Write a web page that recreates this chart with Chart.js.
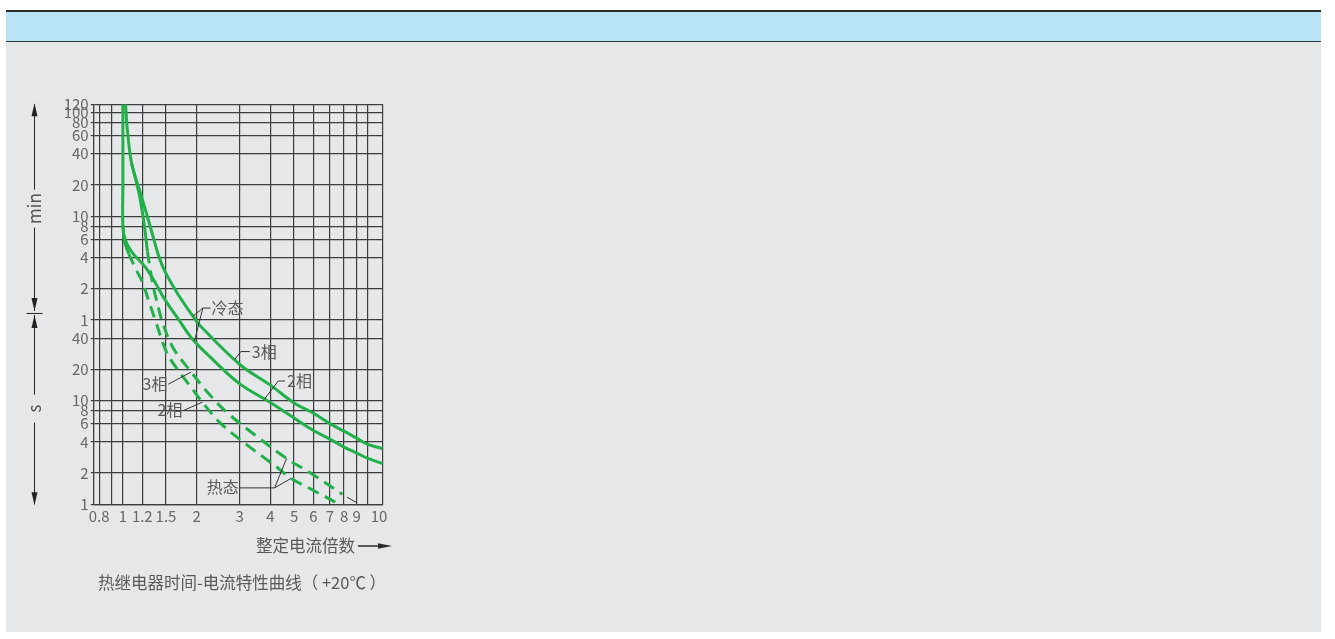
<!DOCTYPE html>
<html>
<head>
<meta charset="utf-8">
<script src="https://cdn.jsdelivr.net/npm/chart.js@4.4.1/dist/chart.umd.min.js"></script>
<style>
  html, body { margin:0; padding:0; background:#ffffff; width:1335px; height:639px; overflow:hidden;
    font-family:'Noto Sans CJK SC','Noto Sans',sans-serif; }
  #topline { position:absolute; left:6px; top:10px; width:1315px; height:2px; background:#2b2b2b; }
  #band { position:absolute; left:6px; top:12px; width:1315px; height:29px; background:#b9e4f8; border-bottom:1px solid #2c363b; }
  #panel { position:absolute; left:6px; top:42px; width:1315px; height:590px; background:#e6e7e9; }
  #wrap { position:absolute; left:0; top:60px; width:430px; height:500px; }
  .txt { position:absolute; color:#595959; font-size:16.5px; line-height:20px; white-space:nowrap; }
  #xarrow { position:absolute; left:357px; top:540px; }
</style>
</head>
<body>
<div id="topline"></div>
<div id="band"></div>
<div id="panel"></div>
<div id="wrap"><canvas id="c" width="430" height="500"></canvas></div>
<div class="txt" id="xtitle" style="left:256px; top:535px;">整定电流倍数</div>
<svg id="xarrow" width="40" height="12">
  <line x1="1" y1="6" x2="24" y2="6" stroke="#2b2b2b" stroke-width="1.5"/>
  <polygon points="21,3.3 35,6 21,8.7" fill="#2b2b2b"/>
</svg>
<div class="txt" id="caption" style="left:98px; top:572px;">热继电器时间-电流特性曲线（ +20℃ ）</div>

<script>
// ---------- data ----------
const xTickValues = [0.8, 0.9, 1, 1.2, 1.5, 2, 3, 4, 5, 6, 7, 8, 9, 10, 11.5];
const xTickLabels = ['0.8', '', '1', '1.2', '1.5', '2', '3', '4', '5', '6', '7', '8', '9', '\u2003\u200210', ''];
// y values in seconds; labels switch from s to min at 60 s
const yTickValues = [1, 2, 4, 6, 8, 10, 20, 40, 60, 120, 240, 360, 480, 600, 1200, 2400, 3600, 4800, 6000, 7200];
const yTickLabels = ['1', '2', '4', '6', '8', '10', '20', '40', '1', '2', '4', '6', '8', '10', '20', '40', '60', '80', '100', '120'];

// 冷态 3相 (cold, 3-phase)
const cold3phX = [1.025, 1.045, 1.087, 1.19, 1.295, 1.398, 1.486, 1.683, 1.932, 2.058, 3, 4, 5, 6, 7, 8, 9, 10, 11.5];
const cold3phY = [7200, 3885, 1913, 936, 472, 251, 175, 105, 65.2, 53.3, 22.3, 14.1, 9.5, 7.56, 6.0, 5.07, 4.35, 3.78, 3.45];
// 冷态 2相 (cold, 2-phase)
const cold2phX = [1.0, 1.0, 1.0, 1.025, 1.10, 1.237, 1.356, 1.486, 1.663, 1.914, 2.34, 3, 4, 5, 6, 7, 8, 9, 10, 11.5];
const cold2phY = [7200, 1200, 483, 350, 262, 193, 137, 93.6, 63.8, 39.7, 24.6, 14.5, 9.59, 6.78, 5.15, 4.25, 3.56, 3.12, 2.77, 2.47];
// 热态 3相 (hot, 3-phase)
const hot3phX = [1.087, 1.170, 1.226, 1.26, 1.289, 1.331, 1.381, 1.446, 1.602, 1.878, 2.242, 2.661, 3.418, 4.66, 6, 7.87];
const hot3phY = [1913, 936, 472, 274, 193, 125, 87.5, 58.3, 32.3, 19.5, 11.64, 7.67, 4.77, 2.77, 1.92, 1.25];
// 热态 2相 (hot, 2-phase)
const hot2phX = [1.0, 1.015, 1.056, 1.12, 1.203, 1.271, 1.356, 1.51, 1.694, 1.908, 2.058, 2.512, 3.191, 4.163, 4.863, 6, 7.535];
const hot2phY = [483, 342, 262, 193, 137, 93.6, 59.6, 29.05, 19.1, 13.25, 10.38, 6, 3.78, 2.37, 1.78, 1.36, 1.02];

// annotation labels (data coordinates)
const noteTexts = ['冷态', '3相', '2相', '3相', '2相', '热态'];
const noteX = [2.30, 3.36, 4.68, 1.521, 1.751, 2.97];
const noteY = [78, 29.7, 15.44, 14.36, 8.15, 1.46];
const noteSide = ['left', 'left', 'left', 'right', 'right', 'right'];
// leader lines (data coordinates)
const leaderLines = [
  [[2.28, 78], [2.12, 78], [1.932, 65.2]],
  [[2.12, 78], [1.96, 37.6]],
  [[3.30, 29.7], [3.03, 29.7], [2.858, 24.9]],
  [[4.59, 15.44], [4.31, 15.44], [3.788, 10.37]],
  [[1.533, 14.4], [1.9, 18.85]],
  [[1.764, 8.0], [2.111, 9.68]],
  [[2.98, 1.44], [4.163, 1.44], [4.66, 2.77]],
  [[4.163, 1.44], [4.863, 1.78]],
  [[8.22, 1.17], [9, 1.04]]
];

const xMin = 0.76, xMax = 11.5, yMin = 1, yMax = 7200;
const unitSplit = 70;   // boundary between the "min" and "s" bands of the time axis (seconds)

// ---------- chart ----------
const FONT = "'Noto Sans CJK SC','Noto Sans',sans-serif";
const GREEN = '#22b04b';
const toPts = (xs, ys) => xs.map((x, i) => ({ x: x, y: ys[i] }));
const dashAfter = n => ({ borderDash: ctx => ctx.p0DataIndex >= n ? [12, 7] : undefined });

const unitPlugin = {
  id: 'unitPlugin',
  afterDraw(chart) {
    const ctx = chart.ctx, y = chart.scales.y, x = chart.scales.x;
    const cx = 34.5;
    const top = y.getPixelForValue(yMax), sep = y.getPixelForValue(unitSplit), bot = y.getPixelForValue(yMin);
    ctx.save();
    ctx.strokeStyle = '#222'; ctx.fillStyle = '#222'; ctx.lineWidth = 1;
    const vline = (a, b) => { ctx.beginPath(); ctx.moveTo(cx, a); ctx.lineTo(cx, b); ctx.stroke(); };
    const arrow = (tip, dir) => {
      ctx.beginPath(); ctx.moveTo(cx, tip);
      ctx.lineTo(cx - 3, tip - dir * 13); ctx.lineTo(cx + 3, tip - dir * 13);
      ctx.closePath(); ctx.fill();
    };
    const mMid = (top + sep) / 2, sMid = (sep + bot) / 2;
    vline(top, mMid - 19); vline(mMid + 19, sep - 2);
    arrow(top - 1, -1); arrow(sep - 2, 1);
    ctx.beginPath(); ctx.moveTo(cx - 8, sep + 0.5); ctx.lineTo(cx + 8, sep + 0.5); ctx.stroke();
    vline(sep + 2, sMid - 14); vline(sMid + 14, bot);
    arrow(sep + 2, -1); arrow(bot + 1, 1);
    ctx.fillStyle = '#505050'; ctx.font = '17px ' + FONT;
    ctx.textAlign = 'center'; ctx.textBaseline = 'middle';
    [['min', mMid], ['s', sMid]].forEach(([t, m]) => {
      ctx.save(); ctx.translate(cx, m); ctx.rotate(-Math.PI / 2); ctx.fillText(t, 0, 0); ctx.restore();
    });
    // leaders
    ctx.strokeStyle = '#333'; ctx.lineWidth = 1;
    leaderLines.forEach(line => {
      ctx.beginPath();
      line.forEach((p, i) => {
        const px = x.getPixelForValue(p[0]), py = y.getPixelForValue(p[1]);
        if (i === 0) ctx.moveTo(px, py); else ctx.lineTo(px, py);
      });
      ctx.stroke();
    });
    // labels
    ctx.fillStyle = '#595959'; ctx.font = '16px ' + FONT; ctx.textBaseline = 'middle';
    noteTexts.forEach((t, i) => {
      ctx.textAlign = noteSide[i];
      ctx.fillText(t, x.getPixelForValue(noteX[i]), y.getPixelForValue(noteY[i]));
    });
    ctx.restore();
  }
};

new Chart(document.getElementById('c'), {
  type: 'line',
  data: {
    datasets: [
      { label: '冷态 2相', data: toPts(cold2phX, cold2phY), borderColor: GREEN, borderWidth: 3, pointRadius: 0, tension: 0.35, fill: false },
      { label: '冷态 3相', data: toPts(cold3phX, cold3phY), borderColor: GREEN, borderWidth: 3, pointRadius: 0, tension: 0.35, fill: false },
      { label: '热态 2相', data: toPts(hot2phX, hot2phY), borderColor: GREEN, borderWidth: 3, pointRadius: 0, tension: 0.35, fill: false, segment: dashAfter(2) },
      { label: '热态 3相', data: toPts(hot3phX, hot3phY), borderColor: GREEN, borderWidth: 3, pointRadius: 0, tension: 0.35, fill: false, segment: dashAfter(3) }
    ]
  },
  options: {
    responsive: false,
    animation: false,
    events: [],
    layout: { padding: { left: 0, top: 44.3, right: 47.3, bottom: 0 } },
    plugins: { legend: { display: false }, tooltip: { enabled: false } },
    scales: {
      x: {
        type: 'logarithmic', min: xMin, max: xMax,
        afterBuildTicks: s => { s.ticks = xTickValues.map(v => ({ value: v })); },
        afterFit: s => { s.height = 55.7; },
        ticks: { autoSkip: false, maxRotation: 0, minRotation: 0, padding: 3, color: '#666',
                 font: { family: FONT, size: 15 }, callback: (v, i) => xTickLabels[i] },
        grid: { color: '#3d3d3d', lineWidth: 1.2, drawTicks: false },
        border: { display: true, color: '#3d3d3d', width: 1.3 }
      },
      y: {
        type: 'logarithmic', min: yMin, max: yMax,
        afterBuildTicks: s => { s.ticks = yTickValues.map(v => ({ value: v })); },
        afterFit: s => { s.width = 93.7; },
        ticks: { autoSkip: false, padding: 2, color: '#666',
                 font: { family: FONT, size: 15 }, callback: (v, i) => yTickLabels[i] },
        grid: { color: '#3d3d3d', lineWidth: 1.2, drawTicks: true, tickLength: 3 },
        border: { display: true, color: '#3d3d3d', width: 1.3 }
      }
    }
  },
  plugins: [unitPlugin]
});
</script>
</body>
</html>
